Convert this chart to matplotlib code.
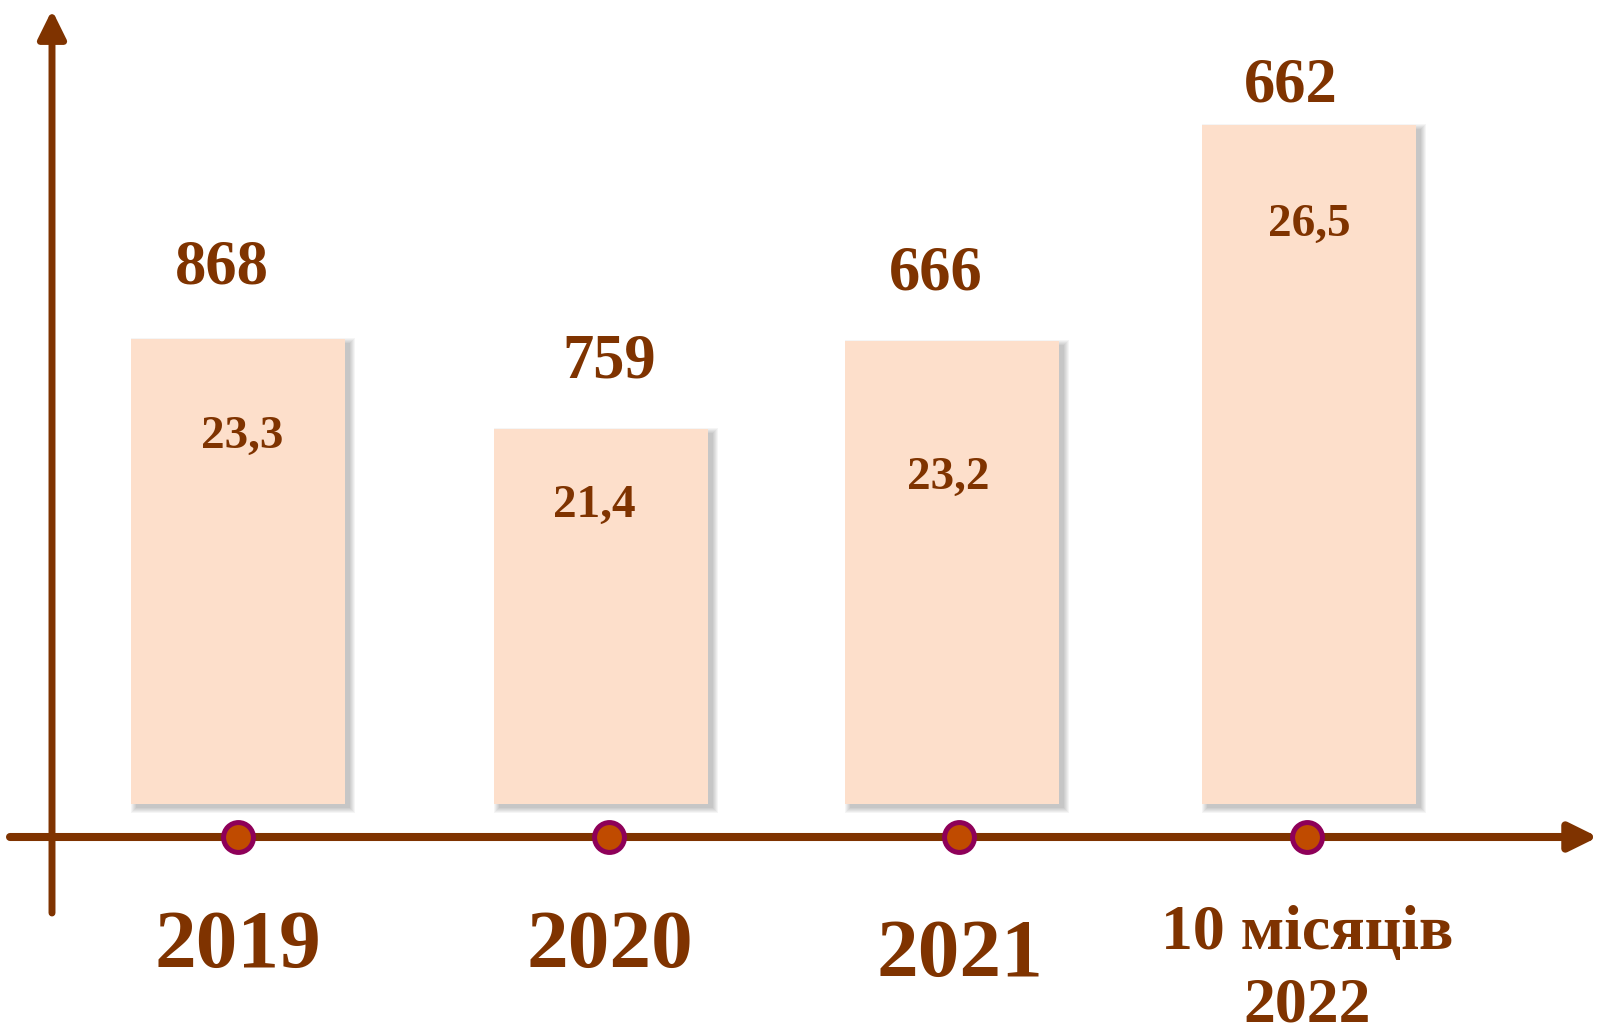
import matplotlib.pyplot as plt

# Дані
categories = ["2019", "2020", "2021", "10 місяців\n2022"]
counts = [868, 759, 666, 662]
shares = ["23,3", "21,4", "23,2", "26,5"]
bar_heights = [465, 375, 463, 679]  # висоти стовпців, як на слайді

brown = "#7F3300"
peach = "#FDDFCB"

SX = 357.0  # пікселів на одну категорію
x = [0, 1.017, 2.0, 3.0]  # положення стовпців (нерівні відступи на слайді)

fig = plt.figure(figsize=(16, 10.26), dpi=100)
ax = fig.add_axes([0, 0, 1, 1])
ax.set_xlim(-238 / SX, (1600 - 238) / SX)
ax.set_ylim(-222, 804)
ax.axis("off")

w = 214 / SX

# тінь під стовпцями
for k in range(6):
    ax.bar([i + 5 / SX for i in x], [h + 2 * k for h in bar_heights],
           width=w + 2 * k / SX, bottom=-4 - k, color="black", alpha=0.04,
           linewidth=0, zorder=1)

ax.bar(x, bar_heights, width=w, color=peach, linewidth=0, zorder=2)

# осі зі стрілками
ax.annotate("", xy=(1598 / SX - 238 / SX, -33), xytext=(10 / SX - 238 / SX, -33),
            arrowprops=dict(arrowstyle="-|>,head_length=0.85,head_width=0.42",
                            lw=5.8, color=brown, mutation_scale=20,
                            shrinkA=0, shrinkB=0), zorder=3)
ax.annotate("", xy=(-186 / SX, 794), xytext=(-186 / SX, -109),
            arrowprops=dict(arrowstyle="-|>,head_length=0.85,head_width=0.42",
                            lw=5, color=brown, mutation_scale=20,
                            shrinkA=0, shrinkB=0), zorder=3)

dot_dx = [0, 8, 7, -2]
ax.plot([x[i] + dot_dx[i] / SX for i in range(4)], [-33] * 4, "o", ms=21.5,
        mew=3.6, mfc="#C04B00", mec="#8E0059", zorder=4, linestyle="none")

font = dict(family="Liberation Serif", weight="bold", color=brown)

top_dx = [-16, 8, -16, -18]
top_y = [283, 378, 289, 102]
in_dx = [4, -7, -4, 0]
in_y = [448, 517, 489, 236]
yr_dx = [0, 9, 8, -2]
yr_y = [967, 967, 976, 1022]

for i in range(4):
    ax.text(x[i] + top_dx[i] / SX, 804 - top_y[i], str(counts[i]), ha="center",
            va="baseline", fontsize=45, **font)
    ax.text(x[i] + in_dx[i] / SX, 804 - in_y[i], shares[i], ha="center",
            va="baseline", fontsize=34, **font)
    if "\n" in categories[i]:
        ax.text(x[i] + yr_dx[i] / SX, 804 - yr_y[i], categories[i], ha="center",
                va="baseline", fontsize=46, linespacing=1.34, **font)
    else:
        ax.text(x[i] + yr_dx[i] / SX, 804 - yr_y[i], categories[i], ha="center",
                va="baseline", fontsize=60, **font)

fig.savefig("out.png", dpi=100)
